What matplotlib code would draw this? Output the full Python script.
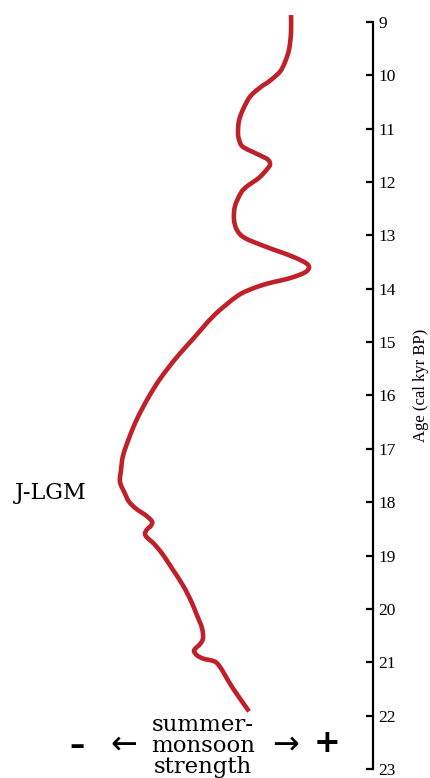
import matplotlib

matplotlib.use("Agg")

import matplotlib.pyplot as plt
import numpy as np
from matplotlib.patches import PathPatch
from matplotlib.path import Path

# summer-monsoon strength proxy (arbitrary units, larger = stronger) vs age
AGE_KYR = [
    8.87, 9.2, 9.52, 9.75, 9.93, 10.1, 10.23, 10.4, 10.64, 10.85, 11.07,
    11.2, 11.34, 11.49, 11.58, 11.67, 11.76, 11.92, 12.08, 12.2, 12.45,
    12.7, 12.9, 13.05, 13.22, 13.4, 13.55, 13.68, 13.8, 13.9, 14.0, 14.14,
    14.5, 14.94, 15.3, 15.69, 16.05, 16.44, 16.8, 17.13, 17.4, 17.62,
    17.84, 17.99, 18.12, 18.25, 18.36, 18.44, 18.51, 18.59, 18.66, 18.78,
    18.96, 19.24, 19.56, 19.85, 20.12, 20.36, 20.55, 20.66, 20.73, 20.79,
    20.87, 20.93, 20.98, 21.06, 21.24, 21.49, 21.92,
]
STRENGTH = [
    291, 291, 289, 285, 280, 270, 260, 250, 243, 239, 238,
    239, 243, 259, 268, 270, 267, 259, 247, 241, 235,
    234, 237, 245, 267, 293, 308, 306, 290, 268, 252, 237,
    214, 193, 176, 160, 148, 137, 129, 123, 121, 120,
    125, 129, 136, 146, 152, 151, 147, 145, 147, 154,
    162, 172, 183, 191, 197, 202, 203, 200, 196, 194,
    197, 203, 214, 219, 225, 233, 249,
]
AGE_TICKS = list(range(9, 24))

SERIF_TICKS = ["Liberation Serif", "DejaVu Serif"]
SERIF_TEXT = ["DejaVu Serif"]
LINE_COLOR = "#c0202a"


def smooth_path(x, y) -> Path:
    """Bezier path through every point (Catmull-Rom tangents)."""
    pts = np.column_stack([x, y]).astype(float)
    ext = np.vstack([pts[0], pts, pts[-1]])
    verts = [pts[0]]
    codes = [Path.MOVETO]
    for i in range(1, len(ext) - 2):
        p0, p1, p2, p3 = ext[i - 1], ext[i], ext[i + 1], ext[i + 2]
        verts += [p1 + (p2 - p0) / 6.0, p2 - (p3 - p1) / 6.0, p2]
        codes += [Path.CURVE4] * 3
    return Path(verts, codes)


def main() -> None:
    fig = plt.figure(figsize=(4.30, 7.78), dpi=100)
    ax = fig.add_axes([0.0, 9 / 778, 373 / 430, 747 / 778])

    ax.add_patch(PathPatch(smooth_path(STRENGTH, AGE_KYR), fill=False,
                           edgecolor=LINE_COLOR, lw=3.3, capstyle="butt",
                           joinstyle="round", clip_on=False))

    ax.set_xlim(0, 373)
    ax.set_ylim(23, 9)
    for side in ("top", "left", "bottom"):
        ax.spines[side].set_visible(False)
    ax.spines["right"].set_linewidth(1.6)
    ax.set_xticks([])
    ax.yaxis.tick_right()
    ax.set_yticks(AGE_TICKS)
    ax.tick_params(axis="y", direction="in", length=5, width=1.6, pad=4,
                   labelsize=12.5)
    for lbl in ax.get_yticklabels():
        lbl.set_family(SERIF_TICKS)
        lbl.set_verticalalignment("center_baseline")
    ax.patch.set_visible(False)

    fig.text(421 / 430, 1 - 385 / 778, "Age (cal kyr BP)", rotation=90,
             ha="center", va="center", fontsize=12, family=SERIF_TICKS)

    fig.text(15 / 430, 1 - 493 / 778, "J-LGM", ha="left", va="center",
             fontsize=16, family=SERIF_TEXT)

    fig.text(203 / 430, 1 - 746 / 778, "summer-\nmonsoon\nstrength",
             ha="center", va="center", fontsize=16.5, family=SERIF_TEXT,
             linespacing=0.95)
    fig.text(77 / 430, 1 - 745 / 778, "\u2013", ha="center", va="center",
             fontsize=22, fontweight="bold")
    fig.text(124 / 430, 1 - 745 / 778, "\u2190", ha="center", va="center",
             fontsize=23)
    fig.text(286 / 430, 1 - 745 / 778, "\u2192", ha="center", va="center",
             fontsize=23)
    fig.text(327 / 430, 1 - 744 / 778, "+", ha="center", va="center",
             fontsize=23, fontweight="bold")

    fig.savefig("out.png", dpi=100)
    plt.close(fig)


if __name__ == "__main__":
    main()
